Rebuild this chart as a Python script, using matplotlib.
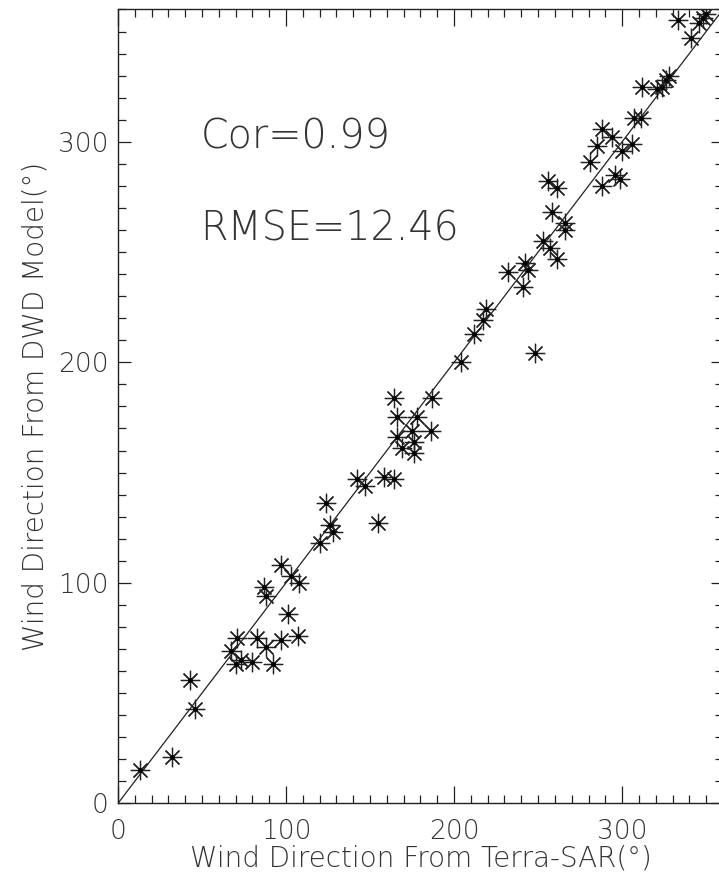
"""
Terra-SAR 풍향 vs DWD 모델 풍향 산점도
"""
import matplotlib
matplotlib.use("Agg")
import matplotlib.pyplot as plt
import matplotlib.ticker as mticker

matplotlib.rcParams["font.family"] = ["DejaVu Sans"]

# ── 데이터 ─────────────────────────────────────────
sar_dir = [13, 32, 43, 46, 67, 71, 70, 73, 80, 83,
           88, 92, 97, 107, 101, 87, 88, 97, 103, 108,
           120, 124, 126, 128, 142, 147, 155, 158, 164, 164,
           166, 166, 169, 175, 176, 176, 178, 186, 187, 204,
           212, 217, 219, 241, 248, 232, 242, 244, 253, 257,
           261, 266, 266, 256, 261, 258, 281, 285, 288, 288,
           294, 300, 296, 299, 306, 307, 311, 312, 321, 324,
           328, 326, 333, 341, 346, 348, 350]
dwd_dir = [15, 21, 56, 43, 69, 75, 63, 65, 64, 75,
           71, 63, 74, 76, 86, 98, 94, 108, 103, 100,
           118, 136, 126, 123, 147, 144, 127, 148, 147, 184,
           175, 166, 161, 169, 164, 159, 175, 169, 184, 200,
           213, 219, 224, 234, 204, 241, 245, 242, 255, 252,
           247, 263, 260, 282, 279, 268, 291, 298, 306, 280,
           302, 296, 285, 283, 299, 311, 311, 325, 324, 325,
           330, 328, 355, 347, 354, 356, 358]

line_x = [0, 360]
line_y = [0, 360]

cor_text = "Cor=0.99"
rmse_text = "RMSE=12.46"

INK = "#222222"
TXT = "#333333"

fig = plt.figure(figsize=(7.19, 8.77), dpi=100)
# 오른쪽 축선은 원본처럼 그림 밖으로 살짝 잘림
ax = fig.add_axes([0.1641, 0.0840, 0.8414, 0.9052])

ax.plot(line_x, line_y, color=INK, linewidth=0.9)
ax.plot(sar_dir, dwd_dir, linestyle="none", marker=(8, 2, 0),
        markersize=14, markeredgewidth=0.9, color=INK)
ax.plot(sar_dir, dwd_dir, linestyle="none", marker="o",
        markersize=2.2, color="black")

ax.text(49, 302, cor_text, fontsize=28.5, color=TXT, va="center",
        ha="left", fontweight="light")
ax.text(49, 260.4, rmse_text, fontsize=28.5, color=TXT, va="center",
        ha="left", fontweight="light")

ax.set_xlim(0, 360)
ax.set_ylim(0, 360)
ax.xaxis.set_major_locator(mticker.MultipleLocator(100))
ax.xaxis.set_minor_locator(mticker.MultipleLocator(10))
ax.yaxis.set_major_locator(mticker.MultipleLocator(100))
ax.yaxis.set_minor_locator(mticker.MultipleLocator(10))

ax.tick_params(axis="both", which="both", direction="in",
               top=True, right=True, color=INK, width=0.9,
               labelsize=19, labelcolor=TXT)
ax.tick_params(axis="x", which="major", length=12, pad=11)
ax.tick_params(axis="x", which="minor", length=6)
ax.tick_params(axis="y", which="major", length=9, pad=7)
ax.tick_params(axis="y", which="minor", length=5.5)
for lab in ax.get_xticklabels() + ax.get_yticklabels():
    lab.set_fontweight("light")

for sp in ax.spines.values():
    sp.set_color(INK)
    sp.set_linewidth(1.0)

ax.set_xlabel("Wind Direction From Terra-SAR(°)", fontsize=20,
              color=TXT, fontweight="light", labelpad=1)
ax.set_ylabel("Wind Direction From DWD Model(°)", fontsize=20,
              color=TXT, fontweight="light", labelpad=6)

fig.savefig("out.png", dpi=100)
plt.close(fig)
